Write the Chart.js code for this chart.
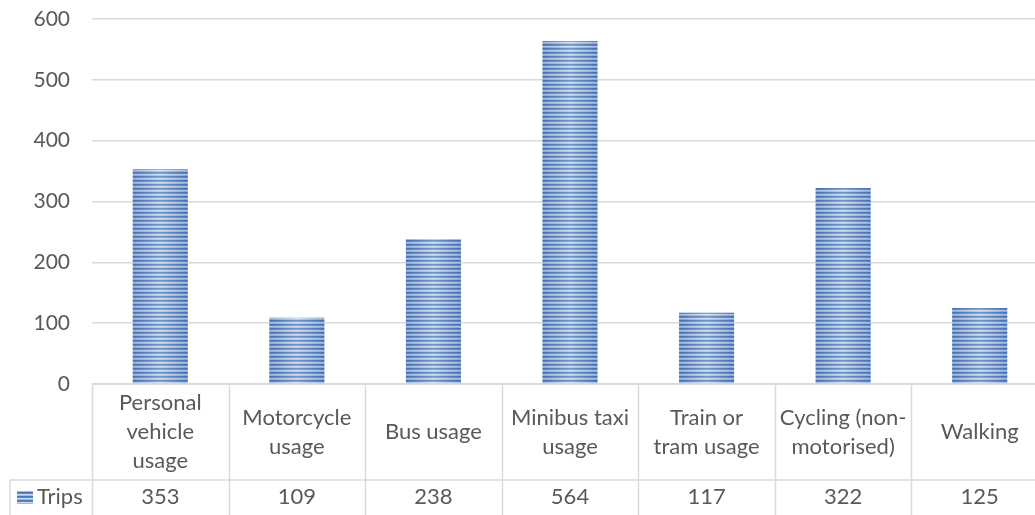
<!DOCTYPE html>
<html>
<head>
<meta charset="utf-8">
<script src="https://cdn.jsdelivr.net/npm/chart.js@4/dist/chart.umd.min.js"></script>
<style>
  html, body { margin: 0; padding: 0; background: #fff; overflow: hidden; }
  #wrap { position: relative; width: 1050px; height: 515px; }
</style>
</head>
<body>
<div id="wrap"><canvas id="chart" width="1050" height="515"></canvas></div>
<script>
// Trips per transport mode
const categories = [
    ['Personal', 'vehicle', 'usage'],
    ['Motorcycle', 'usage'],
    ['Bus usage'],
    ['Minibus taxi', 'usage'],
    ['Train or', 'tram usage'],
    ['Cycling (non-', 'motorised)'],
    ['Walking']
];
const trips = [353, 109, 238, 564, 117, 322, 125];
const seriesName = 'Trips';
const yTicks = [0, 100, 200, 300, 400, 500, 600];

const textColor = '#595959';
const lineColor = '#d9d9d9';
const fontFamily = 'Lato, "Open Sans", sans-serif';

// horizontal stripe fill for the bars
function makeStripes() {
    const c = document.createElement('canvas');
    c.width = 4; c.height = 4;
    const g = c.getContext('2d');
    const rows = ['#4675b8', '#5a88c9', '#c6d8f0', '#9fbbe2'];
    rows.forEach((col, i) => { g.fillStyle = col; g.fillRect(0, i, 4, 1); });
    return g.createPattern(c, 'repeat');
}

const ctx = document.getElementById('chart').getContext('2d');
const stripes = makeStripes();

// soft highlight down the middle of each bar
const barSheen = {
    id: 'barSheen',
    afterDatasetsDraw(chart) {
        const c = chart.ctx;
        chart.getDatasetMeta(0).data.forEach(bar => {
            const left = bar.x - bar.width / 2;
            const grad = c.createLinearGradient(left, 0, left + bar.width, 0);
            grad.addColorStop(0, 'rgba(60,100,170,0.25)');
            grad.addColorStop(0.5, 'rgba(255,255,255,0.25)');
            grad.addColorStop(1, 'rgba(60,100,170,0.25)');
            c.save();
            c.fillStyle = grad;
            c.fillRect(left, bar.y, bar.width, bar.base - bar.y);
            c.restore();
        });
    }
};

// data table under the plot: category header row and a values row
const dataTable = {
    id: 'dataTable',
    afterDraw(chart) {
        const c = chart.ctx;
        const xs = chart.scales.x;
        const area = chart.chartArea;
        const top = area.bottom;
        const rowSplit = top + 96;
        const bottom = chart.height + 20;
        const n = categories.length;
        const step = (area.right - area.left) / n;

        c.save();
        c.strokeStyle = lineColor;
        c.lineWidth = 1.5;
        c.beginPath();
        c.moveTo(area.left, top); c.lineTo(area.right, top);
        c.moveTo(10, rowSplit); c.lineTo(area.right, rowSplit);
        c.moveTo(10, rowSplit); c.lineTo(10, bottom);
        for (let i = 0; i <= n; i++) {
            const x = Math.round(area.left + i * step) + 0.5;
            c.moveTo(x, top); c.lineTo(x, bottom);
        }
        c.stroke();

        c.fillStyle = textColor;
        c.font = '22px ' + fontFamily;
        c.textAlign = 'center';
        c.textBaseline = 'middle';
        const lineH = 29;
        categories.forEach((lines, i) => {
            const cx = xs.getPixelForValue(i);
            const midY = top + 48;
            const y0 = midY - (lines.length - 1) * lineH / 2;
            lines.forEach((t, j) => c.fillText(t, cx, y0 + j * lineH));
            c.fillText(String(trips[i]), cx, rowSplit + 17);
        });

        // legend key
        c.fillStyle = stripes;
        c.fillRect(17, rowSplit + 11, 16, 13);
        c.fillStyle = textColor;
        c.textAlign = 'left';
        c.fillText(seriesName, 37, rowSplit + 17);
        c.restore();
    }
};

new Chart(ctx, {
    type: 'bar',
    data: {
        labels: categories.map(l => l.join(' ')),
        datasets: [{
            label: seriesName,
            data: trips,
            backgroundColor: stripes,
            borderWidth: 0,
            barPercentage: 0.403,
            categoryPercentage: 1
        }]
    },
    options: {
        responsive: false,
        animation: false,
        devicePixelRatio: 1,
        layout: { padding: { top: 19, right: 2, bottom: 123, left: 0 } },
        plugins: {
            legend: { display: false },
            tooltip: { enabled: false }
        },
        scales: {
            x: {
                offset: true,
                grid: { display: false },
                border: { display: false },
                ticks: { display: false }
            },
            y: {
                min: 0,
                max: 600,
                afterBuildTicks: s => { s.ticks = yTicks.map(v => ({ value: v })); },
                afterFit: s => {
                    s.width = 92;
                    s.paddingTop = 0;
                    s.paddingBottom = 0;
                },
                grid: { color: lineColor, lineWidth: 1.5, drawTicks: false },
                border: { display: false },
                ticks: {
                    padding: 22,
                    color: textColor,
                    font: { family: fontFamily, size: 21 }
                }
            }
        }
    },
    plugins: [barSheen, dataTable]
});
</script>
</body>
</html>
